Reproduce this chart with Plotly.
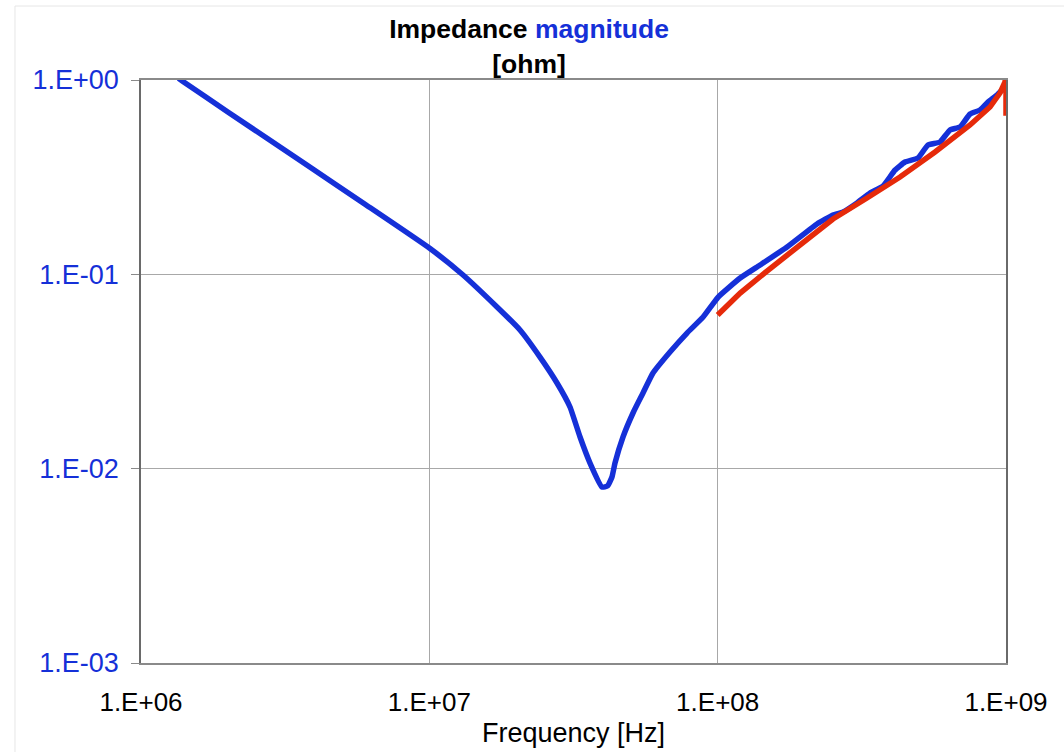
import plotly.graph_objects as go

# Measured impedance magnitude (blue) and model fit above 100 MHz (red)
freq_blue = [1.35e6, 1.39e6, 2.0e6, 3.76e6, 6.0e6, 1.0e7, 1.309e7, 1.717e7,
             2.063e7, 2.42e7, 2.772e7, 3.075e7, 3.332e7, 3.608e7, 3.972e7, 4.15e7,
             4.30e7, 4.405e7, 4.695e7, 5.086e7, 5.509e7, 5.966e7, 6.834e7, 7.829e7,
             8.903e7, 1.004e8, 1.197e8, 1.403e8, 1.74e8, 2.211e8, 2.512e8, 2.721e8,
             3.043e8, 3.376e8, 3.745e8, 4.123e8, 4.465e8, 4.953e8, 5.364e8, 5.904e8,
             6.393e8, 6.926e8, 7.503e8, 8.125e8, 8.662e8, 9.307e8, 9.763e8, 1.0e9]
z_blue = [1.02, 0.988, 0.685, 0.365, 0.229, 0.1366, 0.0992, 0.0679,
          0.0517, 0.0375, 0.0276, 0.02077, 0.01455, 0.01069, 0.00804, 0.00815,
          0.00906, 0.01069, 0.01455, 0.01934, 0.02451, 0.03107, 0.03984, 0.04989,
          0.06032, 0.07644, 0.09575, 0.1117, 0.1382, 0.1816, 0.2020, 0.2093,
          0.2328, 0.2621, 0.2848, 0.3441, 0.3785, 0.3969, 0.4630, 0.4797,
          0.5530, 0.5730, 0.6683, 0.7007, 0.7705, 0.8372, 0.8989, 0.93]

freq_red = [1.0e8, 1.197e8, 1.483e8, 1.93e8, 2.512e8, 3.296e8, 4.29e8, 5.674e8,
            7.503e8, 8.8e8, 9.533e8, 9.922e8, 1.0e9, 1.0e9]
z_red = [0.0618, 0.0801, 0.1040, 0.1416, 0.1926, 0.2470, 0.3168, 0.4262,
         0.5868, 0.7263, 0.8573, 0.977, 1.08, 0.655]

x_tick_vals = [1e6, 1e7, 1e8, 1e9]
x_tick_text = ["1.E+06", "1.E+07", "1.E+08", "1.E+09"]
y_tick_vals = [1e-3, 1e-2, 1e-1, 1]
y_tick_text = ["1.E-03", "1.E-02", "1.E-01", "1.E+00"]

BLUE = "#1530D8"
RED = "#E62A0A"
FONT = "Liberation Sans, Arial, sans-serif"

fig = go.Figure()
fig.add_trace(go.Scatter(x=freq_blue, y=z_blue, mode="lines",
                         line=dict(color=BLUE, width=5.5, shape="spline", smoothing=0.4),
                         showlegend=False))
fig.add_trace(go.Scatter(x=freq_red, y=z_red, mode="lines",
                         line=dict(color=RED, width=5.5), showlegend=False))

fig.update_layout(
    width=1064, height=752,
    margin=dict(l=141, r=58, t=80, b=89),
    plot_bgcolor="white", paper_bgcolor="white",
    font=dict(family=FONT, size=26, color="black"),
    title=dict(
        text=f"<b>Impedance <span style='color:{BLUE}'>magnitude</span><br>[ohm]</b>",
        x=0.4486, xref="paper", xanchor="center",
        y=0.949, yref="container", yanchor="top",
        font=dict(family=FONT, size=26.5, color="black"),
    ),
    xaxis=dict(
        type="log", range=[6, 9], automargin=False,
        tickvals=x_tick_vals, ticktext=x_tick_text,
        showgrid=True, gridcolor="#a8a8a8", gridwidth=1,
        showline=True, linecolor="#8a8a8a", linewidth=1.5, mirror=True,
        ticks="", ticklabelstandoff=15,
        tickfont=dict(size=26, color="black"),
        title=dict(text="Frequency [Hz]", standoff=7, font=dict(size=27, color="black")),
        zeroline=False,
    ),
    yaxis=dict(
        type="log", range=[-3, 0], automargin=False,
        tickvals=y_tick_vals, ticktext=y_tick_text,
        showgrid=True, gridcolor="#a8a8a8", gridwidth=1,
        showline=True, linecolor="#6a6a6a", linewidth=1.5, mirror=True,
        ticks="outside", ticklen=8, tickcolor="#8a8a8a",
        ticklabelstandoff=7,
        tickfont=dict(size=27, color=BLUE),
        zeroline=False,
    ),
    shapes=[dict(type="rect", xref="paper", yref="paper",
                 x0=-0.1457, x1=1.2, y0=-0.3, y1=1.1269,
                 line=dict(color="#e6e6e6", width=1), layer="below")],
)

fig.write_html("out.html")
